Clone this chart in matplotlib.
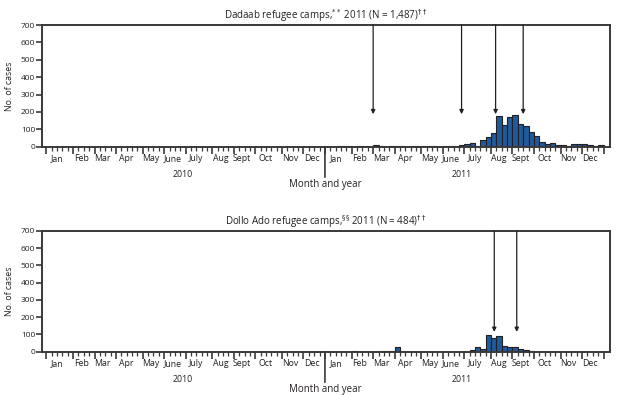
import matplotlib
matplotlib.use('Agg')
import matplotlib.pyplot as plt
from matplotlib.transforms import blended_transform_factory

plt.rcParams['font.family'] = ['Open Sans', 'DejaVu Sans']

# weekly case counts, 52 weeks per year
dadaab_2010 = [0] * 52
dadaab_2011 = [0, 0, 4, 4, 4, 0, 4, 4, 0, 8, 4, 0, 4, 4, 4, 0, 3, 3, 3, 3,
               3, 0, 3, 4, 5, 8, 15, 19, 6, 39, 54, 81, 175, 123, 168, 183,
               133, 118, 85, 62, 25, 15, 23, 10, 10, 6, 13, 18, 13, 8, 4, 12]
dollo_2010 = [0] * 52
dollo_2011 = [0, 0, 0, 0, 0, 3, 0, 0, 0, 0, 3, 3, 5, 25, 0, 0, 0, 0, 0, 0,
              0, 0, 0, 0, 0, 0, 0, 10, 28, 17, 95, 78, 90, 35, 30, 26,
              17, 10, 4, 0, 0, 0, 0, 0, 0, 0, 0, 0, 0, 0, 0, 0]

months = ['Jan', 'Feb', 'Mar', 'Apr', 'May', 'June', 'July', 'Aug', 'Sept', 'Oct', 'Nov', 'Dec']
month_start_week = [0, 5, 9, 13, 18, 22, 26, 31, 35, 39, 44, 48, 52]
years = ['2010', '2011']

# arrow positions (weeks since Jan 2010) and arrow tip heights
dadaab_arrows = [61.5, 78.0, 84.35, 89.5]
dadaab_arrow_tip = 187
dollo_arrows = [84.1, 88.3]
dollo_arrow_tip = 115

titles = [r'Dadaab refugee camps,$^{**}$ 2011 (N = 1,487)$^{\dagger\dagger}$',
          r'Dollo Ado refugee camps,$^{\S\S}$ 2011 (N = 484)$^{\dagger\dagger}$']

dark = '#3b3838'
blue = '#1f5b9c'

fig = plt.figure(figsize=(6.25, 3.95), dpi=100)
ax1 = fig.add_axes([0.0672, 0.6286, 0.9088, 0.3081])
ax2 = fig.add_axes([0.0672, 0.1096, 0.9088, 0.3056])

panels = [(ax1, dadaab_2010 + dadaab_2011, dadaab_arrows, dadaab_arrow_tip, titles[0]),
          (ax2, dollo_2010 + dollo_2011, dollo_arrows, dollo_arrow_tip, titles[1])]

for ax, counts, arrows, tip, title in panels:
    weeks = [w + 1 for w in range(len(counts))]
    ax.bar(weeks, counts, width=1.0, color=blue, edgecolor='#231f20', linewidth=0.8, zorder=2)
    ax.set_xlim(-0.3, 105.7)
    ax.set_ylim(0, 700)
    ax.set_yticks(range(0, 701, 100))
    ax.tick_params(axis='y', labelsize=6, length=4, width=1.2, color=dark, pad=1, labelcolor='#231f20')
    for s in ax.spines.values():
        s.set_color(dark)
        s.set_linewidth(1.4)

    # week ticks (minor) and month ticks (major)
    major = sorted(set(y * 52 + m + 0.5 for y in range(2) for m in month_start_week))
    minor = [k + 0.5 for k in range(0, 105)]
    ax.set_xticks(major)
    ax.set_xticks(minor, minor=True)
    ax.tick_params(axis='x', which='major', length=5, width=1.2, color=dark, labelbottom=False)
    ax.tick_params(axis='x', which='minor', length=3, width=0.9, color=dark)

    trans = blended_transform_factory(ax.transData, ax.transAxes)
    for y in range(2):
        for i, m in enumerate(months):
            xc = y * 52 + (month_start_week[i] + month_start_week[i + 1]) / 2
            ax.annotate(m, xy=(xc, 0), xycoords=trans, xytext=(0, -8.5),
                        textcoords='offset points', ha='center', va='center',
                        fontsize=6.3, color='#231f20')
        ax.annotate(years[y], xy=(y * 52 + 26, 0), xycoords=trans, xytext=(0, -20),
                    textcoords='offset points', ha='center', va='center',
                    fontsize=6.3, color='#231f20')
    # divider between years
    ax.annotate('', xy=(52.5, 0), xycoords=trans, xytext=(52.5, -22), textcoords=(trans, 'offset points'),
                arrowprops=dict(arrowstyle='-', color=dark, lw=1.2, shrinkA=0, shrinkB=0),
                annotation_clip=False)
    ax.annotate('Month and year', xy=(52.5, 0), xycoords=trans, xytext=(0, -27),
                textcoords='offset points', ha='center', va='center',
                fontsize=7, color='#231f20')

    for xa in arrows:
        ax.annotate('', xy=(xa, tip), xytext=(xa, 700),
                    arrowprops=dict(arrowstyle='-|>', color='#231f20', lw=0.9,
                                    mutation_scale=6, shrinkA=0, shrinkB=0), zorder=3)

    ax.set_ylabel('No. of cases', fontsize=6.3, color='#231f20', labelpad=5)
    ax.set_title(title, fontsize=7, color='#231f20', pad=4.5)

plt.savefig('out.png', dpi=100)
